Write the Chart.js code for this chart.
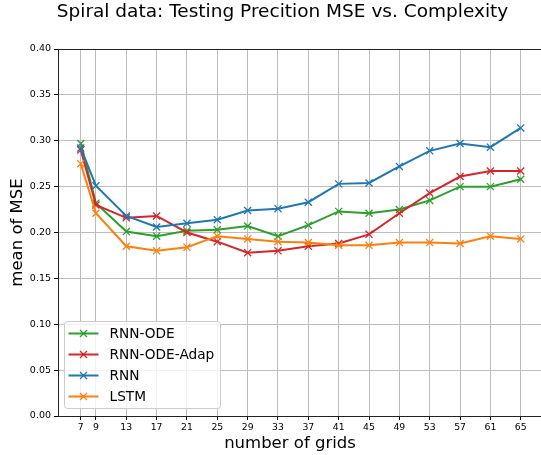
<!DOCTYPE html>
<html>
<head>
<meta charset="utf-8">
<script src="https://cdn.jsdelivr.net/npm/chart.js@4/dist/chart.umd.min.js"></script>
<style>
  html, body { margin: 0; padding: 0; background: #fff; overflow: hidden; }
  #wrap { width: 541px; height: 455px; overflow: hidden; }
</style>
</head>
<body>
<div id="wrap"><canvas id="mseCanvas" width="565" height="455"></canvas></div>
<script>
// グリッド数
const grids = [7, 9, 13, 17, 21, 25, 29, 33, 37, 41, 45, 49, 53, 57, 61, 65];
const rnnOde = [0.297, 0.232, 0.201, 0.196, 0.202, 0.203, 0.207, 0.196, 0.208, 0.223, 0.221, 0.225, 0.235, 0.250, 0.250, 0.258];
const rnnOdeAdap = [0.290, 0.230, 0.216, 0.218, 0.200, 0.190, 0.178, 0.180, 0.185, 0.188, 0.198, 0.221, 0.243, 0.261, 0.267, 0.267];
const rnn = [0.292, 0.251, 0.218, 0.206, 0.210, 0.214, 0.224, 0.226, 0.233, 0.253, 0.254, 0.272, 0.289, 0.297, 0.293, 0.314];
const lstm = [0.275, 0.221, 0.185, 0.180, 0.184, 0.196, 0.193, 0.190, 0.189, 0.186, 0.186, 0.189, 0.189, 0.188, 0.196, 0.193];
const yTicks = [0, 0.05, 0.10, 0.15, 0.20, 0.25, 0.30, 0.35, 0.40];

const FONT = "'DejaVu Sans', sans-serif";
const TITLE = 'Spiral data: Testing Precition MSE vs. Complexity';

const makeSet = (label, values, color, order) => ({
  label,
  data: grids.map((g, i) => ({ x: g, y: values[i] })),
  borderColor: color,
  backgroundColor: color,
  borderWidth: 2,
  pointStyle: 'crossRot',
  pointRadius: 5,
  pointBorderWidth: 1.3,
  pointBorderColor: color,
  order
});

/**
 * タイトル・上側の枠線・x軸タイトル・凡例
 */
const framePlugin = {
  id: 'frame-legend',
  afterDraw(chart) {
    const { ctx, chartArea } = chart;
    ctx.save();
    // タイトル（図全体の中央）
    ctx.fillStyle = '#000';
    ctx.font = `18.5px ${FONT}`;
    ctx.textAlign = 'center';
    ctx.textBaseline = 'alphabetic';
    ctx.fillText(TITLE, 282.5, 17);

    // 上の枠線
    ctx.strokeStyle = '#222';
    ctx.lineWidth = 1;
    ctx.beginPath();
    ctx.moveTo(chartArea.left, Math.round(chartArea.top) + 0.5);
    ctx.lineTo(chartArea.right, Math.round(chartArea.top) + 0.5);
    ctx.stroke();

    // x軸タイトル
    ctx.font = `16.5px ${FONT}`;
    ctx.textBaseline = 'middle';
    ctx.fillText('number of grids', chartArea.left + 232, 444);

    // 凡例
    const bx = 64.5, by = 321.5, bw = 156, bh = 87;
    ctx.beginPath();
    ctx.roundRect(bx, by, bw, bh, 3);
    ctx.fillStyle = 'rgba(255,255,255,0.8)';
    ctx.fill();
    ctx.strokeStyle = '#cccccc';
    ctx.stroke();

    ctx.font = `13.7px ${FONT}`;
    ctx.textAlign = 'left';
    chart.data.datasets.forEach((ds, i) => {
      const y = by + 12 + i * 21;
      ctx.strokeStyle = ds.borderColor;
      ctx.lineWidth = 2;
      ctx.beginPath();
      ctx.moveTo(bx + 4, y);
      ctx.lineTo(bx + 34, y);
      ctx.stroke();
      ctx.lineWidth = 1.3;
      ctx.beginPath();
      ctx.moveTo(bx + 19 - 3.5, y - 3.5);
      ctx.lineTo(bx + 19 + 3.5, y + 3.5);
      ctx.moveTo(bx + 19 - 3.5, y + 3.5);
      ctx.lineTo(bx + 19 + 3.5, y - 3.5);
      ctx.stroke();
      ctx.fillStyle = '#000';
      ctx.fillText(ds.label, bx + 45, y + 1);
    });
    ctx.restore();
  }
};

document.addEventListener('DOMContentLoaded', function() {
  const ctx = document.getElementById('mseCanvas').getContext('2d');
  Chart.defaults.font.family = FONT;

  new Chart(ctx, {
    type: 'line',
    data: {
      datasets: [
        makeSet('RNN-ODE', rnnOde, '#2ca02c', 3),
        makeSet('RNN-ODE-Adap', rnnOdeAdap, '#d62728', 2),
        makeSet('RNN', rnn, '#1f77b4', 1),
        makeSet('LSTM', lstm, '#ff7f0e', 0)
      ]
    },
    options: {
      responsive: false,
      animation: false,
      layout: { padding: { left: 0, right: 21.5, top: 49, bottom: 0 } },
      plugins: {
        legend: { display: false },
        tooltip: { enabled: false },
        title: { display: false }
      },
      scales: {
        x: {
          type: 'linear',
          min: 4,
          max: 68,
          afterBuildTicks: scale => { scale.ticks = grids.map(v => ({ value: v })); },
          afterFit: scale => { scale.height = 39; },
          ticks: {
            autoSkip: false,
            maxRotation: 0,
            color: '#000',
            padding: 2,
            font: { size: 9.3 },
            callback: v => String(v)
          },
          grid: { color: '#bdbdbd', lineWidth: 1, tickColor: '#000', tickLength: 4 },
          border: { color: '#222', width: 1 }
        },
        y: {
          min: 0,
          max: 0.4,
          afterBuildTicks: scale => { scale.ticks = yTicks.map(v => ({ value: v })); },
          afterFit: scale => { scale.width = 58; },
          ticks: {
            color: '#000',
            padding: 3,
            font: { size: 9.5 },
            callback: v => v.toFixed(2)
          },
          grid: { color: '#bdbdbd', lineWidth: 1, tickColor: '#000', tickLength: 4 },
          border: { color: '#222', width: 1 },
          title: {
            display: true,
            text: 'mean of MSE',
            color: '#000',
            font: { size: 16.5 },
            padding: { top: 8, bottom: 0 }
          }
        }
      }
    },
    plugins: [framePlugin]
  });
});
</script>
</body>
</html>
